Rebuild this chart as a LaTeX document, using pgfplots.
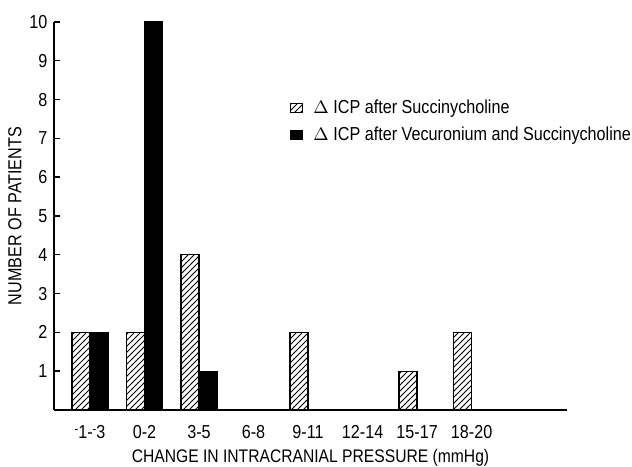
\documentclass[border=0pt]{standalone}
\usepackage{pgfplots}
\pgfplotsset{compat=1.18}
\usetikzlibrary{patterns}
\usepackage{fontspec}
\setmainfont{Liberation Sans}[FakeStretch=0.86]
\newcommand{\rmin}{\raisebox{0.55ex}{\fontsize{6.5}{6.5}\selectfont -}}
\newcommand{\ff}{\fontsize{9.4pt}{10pt}\selectfont}
\begin{document}
\ff
\begin{tikzpicture}
\begin{axis}[
  scale only axis, width=256.5pt, height=194pt,
  xmin=-0.66, xmax=8.75, ymin=0, ymax=10,
  axis x line*=bottom, axis y line*=left,
  axis line style={line width=0.7pt},
  ytick={1,...,10}, tick align=inside, major tick length=3pt,
  y tick style={line width=0.7pt, black},
  xtick={0,...,7},
  xticklabels={{\rmin1-\rmin3},{0-2},{3-5},{6-8},{9-11},{12-14},{15-17},{18-20}},
  x tick style={draw=none},
  /pgf/number format/assume math mode=true,
  tick label style={font=\ff},
  xticklabel style={yshift=-1.5pt},
  ylabel={NUMBER OF PATIENTS},
  ylabel style={at={(axis description cs:-0.076,0.5)}, anchor=center, font=\ff},
  xlabel={CHANGE IN INTRACRANIAL PRESSURE (mmHg)},
  xlabel style={at={(axis description cs:0.5,0)}, anchor=center, yshift=-24pt, font=\fontsize{9.1pt}{10pt}\selectfont},
  ybar, bar width=9pt,
  legend style={draw=none, fill=none, at={(rel axis cs:0.46,0.81)}, anchor=north west,
    inner sep=0pt, row sep=1pt, font=\ff, cells={anchor=west}},
  legend image code/.code={\draw[#1, draw=black, line width=0.5pt] (0pt,-2.25pt) rectangle (6pt,2.25pt); \path (9pt,0pt);},
]
\addplot[bar shift=-4.5pt, draw=black, line width=0.6pt, pattern=north east lines]
  coordinates {(0,2) (1,2) (2,4) (4,2) (6,1) (7,2)};
\addlegendentry{$\Delta$ ICP after Succinycholine}
\addplot[bar shift=4.5pt, draw=black, line width=0.6pt, fill=black]
  coordinates {(0,2) (1,10) (2,1)};
\addlegendentry{$\Delta$ ICP after Vecuronium and Succinycholine}
\coordinate (bbl) at (rel axis cs:-0.1053,-0.1469);
\coordinate (btr) at (rel axis cs:1.1267,1.0567);
\end{axis}
\pgfresetboundingbox
\useasboundingbox (bbl) rectangle (btr);
\end{tikzpicture}
\end{document}
